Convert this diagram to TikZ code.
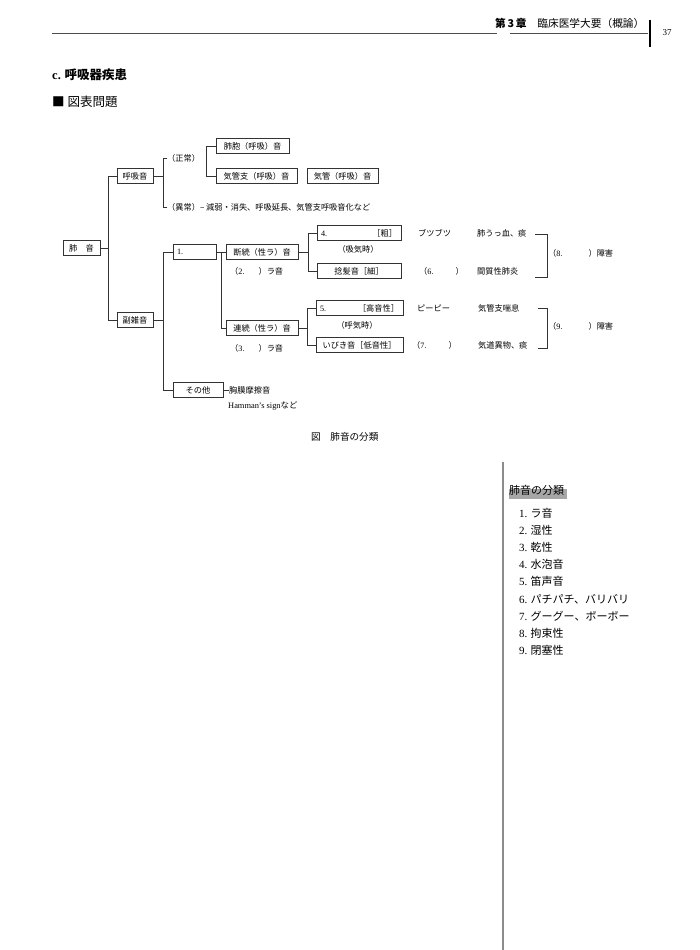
\documentclass[tikz,border=0pt]{standalone}
\usepackage{fontspec}
\setmainfont{Liberation Serif}
\newfontfamily\jp{Noto Sans CJK JP}
\newcommand{\lat}[1]{{\rmfamily #1}}

\begin{document}
\begin{tikzpicture}[x=1pt, y=-1pt,
    box/.style={draw=black!80, line width=0.7pt, minimum height=15pt, inner sep=0pt, font=\jp\fontsize{8.2}{10}\selectfont},
    lbl/.style={anchor=west, inner sep=0pt, font=\jp\fontsize{8.2}{10}\selectfont},
    link/.style={draw=black!80, line width=0.7pt},
    item/.style={anchor=west, inner sep=0pt, font=\jp\fontsize{11}{13}\selectfont}
  ]
  \useasboundingbox (0,0) rectangle (700,950);
  \fill[white] (0,0) rectangle (700,950);

  % header
  \draw[black!70, line width=0.6pt] (52,33) -- (497,33);
  \draw[black!70, line width=0.6pt] (510,33) -- (648,33);
  \draw[line width=2.4pt] (650,20) -- (650,47);
  \node[anchor=west, inner sep=0pt, font=\jp\fontsize{10.7}{12}\selectfont] (chap) at (495,23) {{\bfseries 第\,3\,章}\quad 臨床医学大要（概論）};
  \node[inner sep=0pt, font=\fontsize{9}{11}\selectfont] (page) at (667,33) {37};
  \node[anchor=west, inner sep=0pt, font=\jp\bfseries\fontsize{12.5}{14}\selectfont] (sect) at (52,75) {\lat{c.} 呼吸器疾患};
  \node[anchor=west, inner sep=0pt, font=\jp\fontsize{12.5}{14}\selectfont] (zuhyo) at (52,102) {■ 図表問題};

  % tree: root and first level
  \node[box, minimum width=37pt] (hai) at (81.5,248) {肺\quad 音};
  \node[box, minimum width=36pt] (kokyu) at (135,176) {呼吸音};
  \node[box, minimum width=36pt] (fuku) at (135,320) {副雑音};
  \coordinate (j1) at (108,248);
  \draw[link] (hai.east) -- (j1);
  \draw[link] (kokyu.west) -| (j1);
  \draw[link] (fuku.west) -| (j1);

  % normal / abnormal breath sounds
  \coordinate (j2) at (163,176);
  \node[lbl] (seijo) at (167,158) {（正常）};
  \node[lbl] (ijo) at (167,207) {（異常）– 減弱・消失、呼吸延長、気管支呼吸音化など};
  \draw[link] (kokyu.east) -- (j2);
  \draw[link] (seijo.west) -| (j2);
  \draw[link] (ijo.west) -| (j2);
  \node[box, minimum width=73pt] (hoho) at (252.5,146) {肺胞（呼吸）音};
  \node[box, minimum width=81pt] (kikanshi) at (256.5,176) {気管支（呼吸）音};
  \node[box, minimum width=71pt] (kikan) at (342.5,176) {気管（呼吸）音};
  \draw[link] (hoho.west) -- ++(-9,0) |- (kikanshi.west);

  % adventitious sounds
  \coordinate (j3) at (163,320);
  \node[box, minimum width=43pt] (one) at (194.5,252) {\makebox[35pt][l]{\lat{1.}}};
  \node[box, minimum width=50pt] (sonota) at (198,390) {その他};
  \draw[link] (fuku.east) -- (j3);
  \draw[link] (one.west) -| (j3);
  \draw[link] (sonota.west) -| (j3);
  \node[lbl] (kyomaku) at (229,390) {胸膜摩擦音};
  \node[lbl, font=\fontsize{8.4}{10}\selectfont] (hamman) at (228,406) {Hamman’s sign{\jp など}};
  \draw[link] (sonota.east) -- (kyomaku.west);

  \node[box, minimum width=72pt] (danzoku) at (262,252) {断続（性ラ）音};
  \node[box, minimum width=72pt] (renzoku) at (262,328) {連続（性ラ）音};
  \coordinate (j4) at (221,252);
  \draw[link] (one.east) -- (danzoku.west);
  \draw[link] (renzoku.west) -| (j4);
  \node[lbl] (two) at (230,271) {（\lat{2.}\hspace{14pt}）ラ音};
  \node[lbl] (three) at (230,348) {（\lat{3.}\hspace{14pt}）ラ音};

  % discontinuous
  \coordinate (j5) at (308,252);
  \node[box, minimum width=84pt] (four) at (359,233) {\makebox[76pt]{\lat{4.}\hfill［粗］}};
  \node[box, minimum width=84pt] (nenpatsu) at (359,271) {捻髪音［細］};
  \node[font=\jp\fontsize{8.2}{10}\selectfont, inner sep=0pt] (kyuki) at (358,249) {（吸気時）};
  \draw[link] (danzoku.east) -- (j5);
  \draw[link] (four.west) -| (j5);
  \draw[link] (nenpatsu.west) -| (j5);
  \node[lbl] (butsu) at (418,233) {ブツブツ};
  \node[lbl] (uttsu) at (477,233) {肺うっ血、痰};
  \node[lbl] (six) at (419,271) {（\lat{6.}\hspace{22pt}）};
  \node[lbl] (kanshitsu) at (477,271) {間質性肺炎};
  \draw[link] (535,234) -| (547,277) -- (535,277);
  \node[lbl] (eight) at (548,253) {（\lat{8.}\hspace{26pt}）障害};

  % continuous
  \coordinate (j6) at (307,328);
  \node[box, minimum width=87pt] (five) at (359.5,308) {\makebox[79pt]{\lat{5.}\hfill［高音性］}};
  \node[box, minimum width=87pt] (ibiki) at (359.5,345) {いびき音［低音性］};
  \node[font=\jp\fontsize{8.2}{10}\selectfont, inner sep=0pt] (koki) at (357,325) {（呼気時）};
  \draw[link] (renzoku.east) -- (j6);
  \draw[link] (five.west) -| (j6);
  \draw[link] (ibiki.west) -| (j6);
  \node[lbl] (pipi) at (417,308) {ピーピー};
  \node[lbl] (zensoku) at (478,308) {気管支喘息};
  \node[lbl] (seven) at (412,345) {（\lat{7.}\hspace{22pt}）};
  \node[lbl] (ibutsu) at (478,345) {気道異物、痰};
  \draw[link] (538,308) -| (547,348) -- (538,348);
  \node[lbl] (nine) at (548,326) {（\lat{9.}\hspace{26pt}）障害};

  \node[lbl, font=\jp\fontsize{9.6}{11}\selectfont] (caption) at (311,437) {図\quad 肺音の分類};

  % side panel
  \draw[black!45, line width=1.3pt] (503,462) -- (503,950);
  \fill[black!35] (509,489) rectangle (567,499);
  \node[anchor=west, inner sep=0pt, font=\jp\fontsize{11}{13}\selectfont] (panel) at (509,490) {肺音の分類};
  \foreach \i/\t in {1/ラ音, 2/湿性, 3/乾性, 4/水泡音, 5/笛声音, 6/パチパチ、バリバリ, 7/グーグー、ボーボー, 8/拘束性, 9/閉塞性} {
    \node[item] (li\i) at (519,{513+17.2*(\i-1)}) {\lat{\i.} \t};
  }
\end{tikzpicture}
\end{document}
